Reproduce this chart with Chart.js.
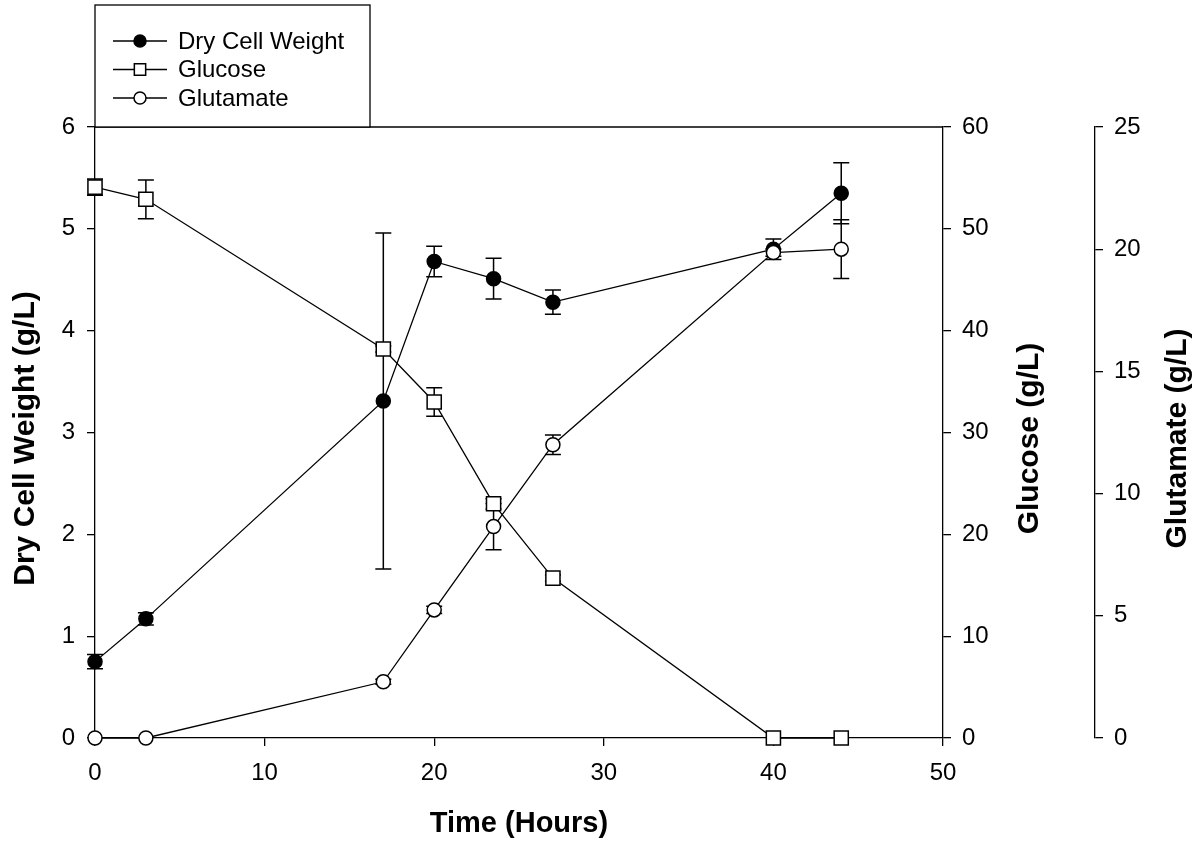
<!DOCTYPE html>
<html>
<head>
<meta charset="utf-8">
<title>Fermentation time course</title>
<script src="https://cdn.jsdelivr.net/npm/chart.js@4.4.1/dist/chart.umd.min.js"></script>
<style>
  html, body { margin: 0; padding: 0; background: #fff; }
  #wrap { width: 1204px; height: 843px; }
</style>
</head>
<body>
<div id="wrap"><canvas id="chart" width="1204" height="843"></canvas></div>
<script>
// sampling times (hours)
const hours = [0, 3, 17, 20, 23.5, 27, 40, 44];

// series values, with their error bars
const dryCellWeight    = [0.75, 1.17, 3.31, 4.68, 4.51, 4.28, 4.80, 5.35];
const dryCellWeightErr = [0.07, 0.06, 1.65, 0.15, 0.20, 0.12, 0.10, 0.30];
const glucose          = [54.1, 52.9, 38.2, 33.0, 23.0, 15.7, 0, 0];
const glucoseErr       = [0.8, 1.9, 0.3, 1.4, 0.5, 0.3, 0, 0];
const glutamate        = [0, 0, 2.3, 5.24, 8.65, 12.0, 19.86, 20.0];
const glutamateErr     = [0, 0, 0.1, 0.15, 0.95, 0.4, 0.15, 1.2];

const seriesLabels = ['Dry Cell Weight', 'Glucose', 'Glutamate'];
const xTitle = 'Time (Hours)';
const yTitles = ['Dry Cell Weight (g/L)', 'Glucose (g/L)', 'Glutamate (g/L)'];

const FONT = '"Liberation Sans", Arial, sans-serif';
Chart.defaults.font.family = FONT;
Chart.defaults.color = '#000';

const toPoints = (ys) => hours.map((h, i) => ({ x: h, y: ys[i] }));

const TICK_FONT = { size: 24 };
const AXIS_W = 1.3;

// vertical error bars with caps, drawn under the markers
const errorBars = {
    id: 'errorBars',
    beforeDatasetsDraw(chart) {
        const { ctx } = chart;
        const xs = chart.scales.x;
        ctx.save();
        ctx.strokeStyle = '#000';
        ctx.lineWidth = 1.5;
        chart.data.datasets.forEach(ds => {
            const ys = chart.scales[ds.yAxisID];
            ds.data.forEach((p, j) => {
                const e = ds.errors[j];
                if (!e) return;
                const x = xs.getPixelForValue(p.x);
                const lo = ys.getPixelForValue(p.y - e);
                const hi = ys.getPixelForValue(p.y + e);
                ctx.beginPath();
                ctx.moveTo(x, lo); ctx.lineTo(x, hi);
                ctx.moveTo(x - 8, lo); ctx.lineTo(x + 8, lo);
                ctx.moveTo(x - 8, hi); ctx.lineTo(x + 8, hi);
                ctx.stroke();
            });
        });
        ctx.restore();
    }
};

// top frame line, boxed legend and the y axis titles (all reading upwards)
const frameAndLegend = {
    id: 'frameAndLegend',
    afterDraw(chart) {
        const { ctx, chartArea } = chart;
        ctx.save();
        ctx.strokeStyle = '#000';
        ctx.lineWidth = AXIS_W;

        ctx.beginPath();
        ctx.moveTo(chartArea.left, chartArea.top);
        ctx.lineTo(chartArea.right, chartArea.top);
        ctx.stroke();

        // legend box
        const bl = chartArea.left, bt = 5, br = 370, bb = chartArea.top;
        ctx.fillStyle = '#fff';
        ctx.fillRect(bl, bt, br - bl, bb - bt);
        ctx.strokeRect(bl, bt, br - bl, bb - bt);

        ctx.font = '24px ' + FONT;
        ctx.textBaseline = 'middle';
        ctx.textAlign = 'left';
        chart.data.datasets.forEach((ds, i) => {
            const y = 41 + i * 28.5;
            ctx.strokeStyle = '#000';
            ctx.lineWidth = 1.3;
            ctx.beginPath();
            ctx.moveTo(bl + 18, y);
            ctx.lineTo(bl + 72, y);
            ctx.stroke();
            ctx.fillStyle = ds.pointBackgroundColor;
            ctx.lineWidth = 1.5;
            Chart.helpers.drawPoint(ctx, {
                pointStyle: ds.pointStyle,
                radius: ds.pointStyle === 'rect' ? 8 : 6,
                borderWidth: 1.5,
                rotation: 0
            }, bl + 45, y);
            ctx.fillStyle = '#000';
            ctx.fillText(ds.label, bl + 83, y + 1);
        });

        // y axis titles
        ctx.font = 'bold 30px ' + FONT;
        ctx.textAlign = 'center';
        ctx.fillStyle = '#000';
        const midY = (chartArea.top + chartArea.bottom) / 2 + 6;
        const titleX = [
            chart.scales.y.left + 26,
            chart.scales.y2.left + 87,
            chart.scales.y3.left + 83
        ];
        yTitles.forEach((text, i) => {
            ctx.save();
            ctx.translate(titleX[i], midY);
            ctx.rotate(-Math.PI / 2);
            ctx.fillText(text, 0, 0);
            ctx.restore();
        });
        ctx.restore();
    }
};

const yAxis = (opts) => Object.assign({
    type: 'linear',
    grid: { drawOnChartArea: false, color: '#000', lineWidth: AXIS_W, tickLength: 8 },
    border: { color: '#000', width: AXIS_W }
}, opts);

new Chart(document.getElementById('chart'), {
    type: 'line',
    data: {
        datasets: [
            {
                label: seriesLabels[0],
                data: toPoints(dryCellWeight),
                errors: dryCellWeightErr,
                yAxisID: 'y',
                pointStyle: 'circle',
                pointRadius: 7,
                pointBackgroundColor: '#000',
                order: 3
            },
            {
                label: seriesLabels[1],
                data: toPoints(glucose),
                errors: glucoseErr,
                yAxisID: 'y2',
                pointStyle: 'rect',
                pointRadius: 10,
                pointBackgroundColor: '#fff',
                order: 2
            },
            {
                label: seriesLabels[2],
                data: toPoints(glutamate),
                errors: glutamateErr,
                yAxisID: 'y3',
                pointStyle: 'circle',
                pointRadius: 7,
                pointBackgroundColor: '#fff',
                order: 1
            }
        ].map(ds => Object.assign({
            borderColor: '#000',
            borderWidth: 1.3,
            pointBorderColor: '#000',
            pointBorderWidth: 1.5,
            pointHoverRadius: 7,
            tension: 0,
            clip: false
        }, ds))
    },
    options: {
        responsive: false,
        animation: false,
        devicePixelRatio: 1,
        layout: { padding: { top: 127, left: 0, right: 0, bottom: 0 } },
        plugins: {
            legend: { display: false },
            tooltip: { enabled: false }
        },
        scales: {
            x: {
                type: 'linear',
                position: 'bottom',
                min: 0,
                max: 50,
                grid: { drawOnChartArea: false, color: '#000', lineWidth: AXIS_W, tickLength: 8 },
                border: { color: '#000', width: AXIS_W },
                ticks: { stepSize: 10, font: TICK_FONT, color: '#000', padding: 13, maxRotation: 0 },
                title: {
                    display: true,
                    text: xTitle,
                    font: { size: 29, weight: 'bold' },
                    color: '#000',
                    padding: { top: 0, bottom: 2 }
                },
                afterFit: s => { s.height = 105; }
            },
            y: yAxis({
                position: 'left',
                min: 0,
                max: 6,
                ticks: { stepSize: 1, font: TICK_FONT, color: '#000', padding: 12 },
                afterFit: s => { s.width = 95; }
            }),
            y2: yAxis({
                position: 'right',
                min: 0,
                max: 60,
                ticks: { stepSize: 10, font: TICK_FONT, color: '#000', padding: 11 },
                afterFit: s => { s.width = 152; }
            }),
            y3: yAxis({
                position: 'right',
                min: 0,
                max: 25,
                ticks: { stepSize: 5, font: TICK_FONT, color: '#000', padding: 11 },
                afterFit: s => { s.width = 109; }
            })
        }
    },
    plugins: [errorBars, frameAndLegend]
});
</script>
</body>
</html>
